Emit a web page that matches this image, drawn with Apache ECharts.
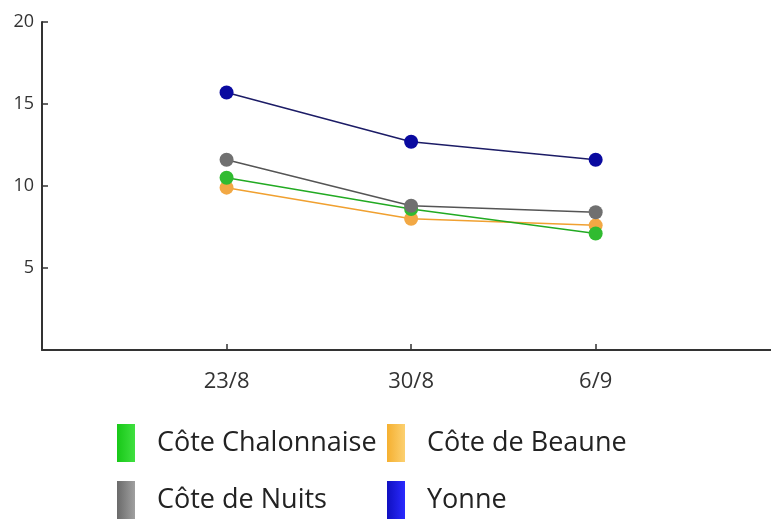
<!DOCTYPE html>
<html>
<head>
<meta charset="utf-8">
<script src="https://cdn.jsdelivr.net/npm/echarts@6/dist/echarts.min.js"></script>
<style>
    html, body {margin: 0; padding: 0; background: #ffffff;}
    #chart {width: 771px; height: 519px;}
</style>
</head>
<body>
<div id="chart"></div>
<script>
var categories = ['23/8', '30/8', '6/9'];
var yTicks = [0, 5, 10, 15, 20];

var chalonnaise = [10.5, 8.6, 7.1];
var beaune = [9.9, 8.0, 7.6];
var nuits = [11.6, 8.8, 8.4];
var yonne = [15.7, 12.7, 11.6];

var font = 'Open Sans';

function gradient(c1, c2) {
    return new echarts.graphic.LinearGradient(0, 0, 1, 0, [
        {offset: 0, color: c1},
        {offset: 1, color: c2}
    ]);
}

// dates sit at x = 1, 2, 3 on a value axis, so there is room on both sides
function line(name, values, lineColor, dotColor, z) {
    return {
        name: name,
        type: 'line',
        data: values.map(function (v, i) {
            return [i + 1, v];
        }),
        z: z,
        symbol: 'circle',
        symbolSize: 14,
        lineStyle: {color: lineColor, width: 1.5},
        itemStyle: {color: dotColor}
    };
}

// one legend per entry so the two columns line up
function legendItem(name, left, top, c1, c2) {
    return {
        left: left,
        top: top,
        itemWidth: 18,
        itemHeight: 38,
        icon: 'rect',
        padding: 0,
        textStyle: {
            fontFamily: font,
            fontSize: 27,
            color: '#222222',
            padding: [2, 0, 0, 17]
        },
        data: [{name: name, itemStyle: {color: gradient(c1, c2)}}]
    };
}

var option = {
    animation: false,
    backgroundColor: '#ffffff',
    grid: {left: 42, right: 0, top: 22, bottom: 169, containLabel: false},
    legend: [
        legendItem('Côte Chalonnaise', 117, 424, '#18c818', '#40e040'),
        legendItem('Côte de Nuits', 117, 481, '#6a6a6a', '#a0a0a0'),
        legendItem('Côte de Beaune', 387, 424, '#f5b030', '#fcd070'),
        legendItem('Yonne', 387, 481, '#1010c0', '#2a2aff')
    ],
    xAxis: {
        type: 'value',
        min: 0,
        max: 3.95,
        interval: 1,
        axisLine: {lineStyle: {color: '#333333', width: 2}},
        axisTick: {
            show: true,
            inside: true,
            length: 6,
            lineStyle: {color: '#333333', width: 1.5}
        },
        axisLabel: {
            fontFamily: font,
            fontSize: 22,
            color: '#333333',
            margin: 21,
            showMinLabel: false,
            showMaxLabel: false,
            formatter: function (v) {
                return categories[v - 1] || '';
            }
        },
        splitLine: {show: false}
    },
    yAxis: {
        type: 'value',
        min: yTicks[0],
        max: yTicks[yTicks.length - 1],
        interval: 5,
        axisLine: {show: true, lineStyle: {color: '#333333', width: 2}},
        axisTick: {show: true, inside: true, length: 6, lineStyle: {color: '#333333', width: 1.5}},
        axisLabel: {
            fontFamily: font,
            fontSize: 18,
            color: '#333333',
            margin: 8,
            formatter: function (v) {
                return v === 0 ? '' : v;
            }
        },
        splitLine: {show: false}
    },
    series: [
        line('Côte de Beaune', beaune, '#f0a030', '#f2a844', 2),
        line('Côte Chalonnaise', chalonnaise, '#22aa22', '#30bb30', 3),
        line('Côte de Nuits', nuits, '#555555', '#707070', 4),
        line('Yonne', yonne, '#1c1c66', '#0a0aa0', 5)
    ]
};

var chart = echarts.init(document.getElementById('chart'));
chart.setOption(option);
</script>
</body>
</html>
